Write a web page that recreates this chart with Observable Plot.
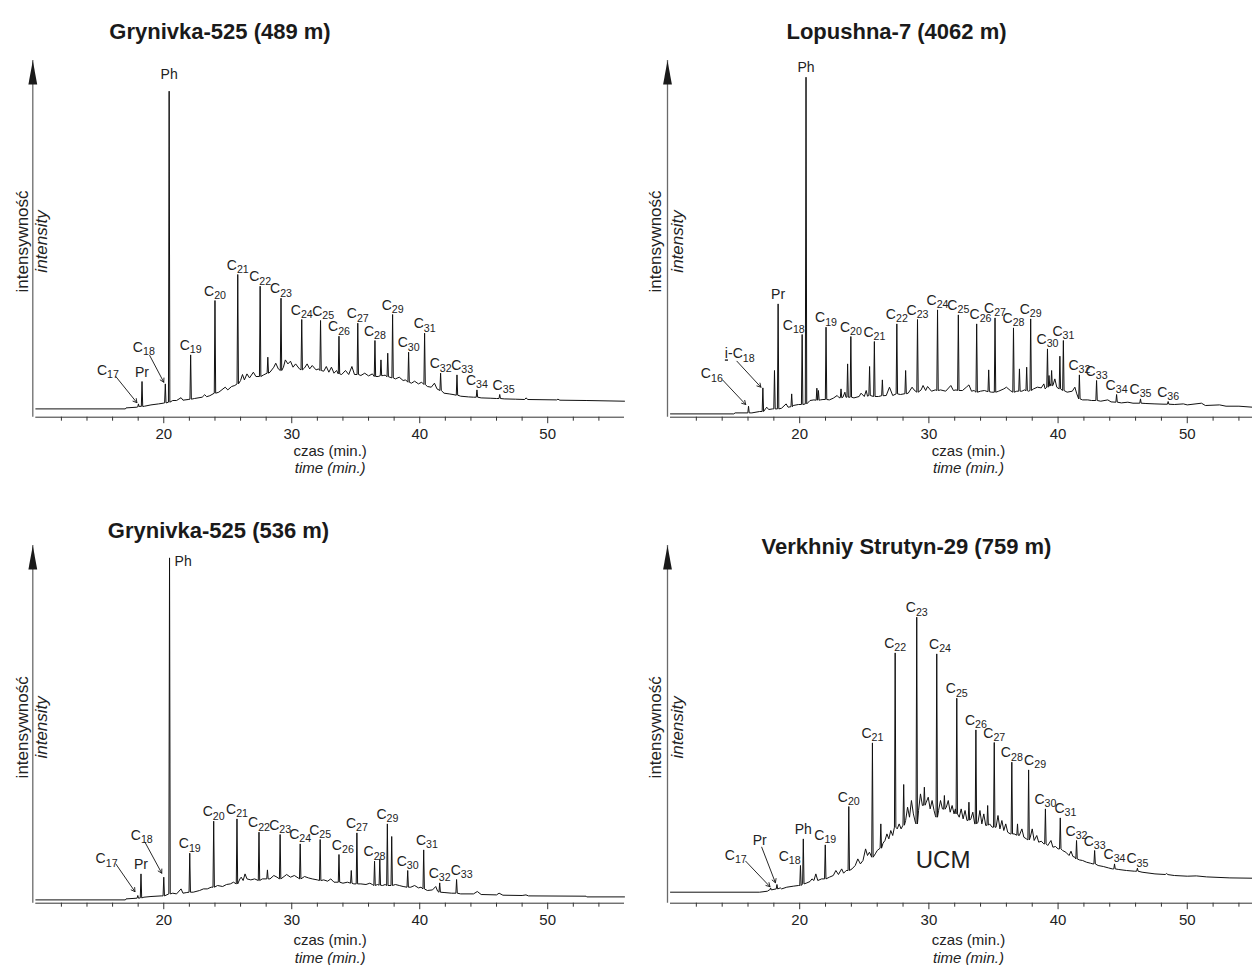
<!DOCTYPE html>
<html><head><meta charset="utf-8">
<script src="https://cdn.jsdelivr.net/npm/d3@7"></script>
<script src="https://cdn.jsdelivr.net/npm/@observablehq/plot@0.6"></script>
<style>
body{margin:0;background:#fff;}
#wrap{position:relative;width:1252px;height:965px;overflow:hidden;background:#fff;}
#wrap svg{position:absolute;}
</style></head><body><div id="wrap"></div>
<script>
// ---------------- data ----------------
const xMajorTicks = [20, 30, 40, 50];
const xMinorTicks = [12, 14, 16, 18, 22, 24, 26, 28, 32, 34, 36, 38, 42, 44, 46, 48, 52, 54];
const titles = ["Grynivka-525 (489 m)", "Lopushna-7 (4062 m)", "Grynivka-525 (536 m)", "Verkhniy Strutyn-29 (759 m)"];
const yLabelPl = "intensywność", yLabelEn = "intensity";
const xLabelPl = "czas (min.)", xLabelEn = "time (min.)";

// baseline / hump traces: [time (min), intensity]
const base1 = [[10,8.3],[17.0,8.3],[17.05,9.3],[17.9,10],[18.12,11],[18.5,11],[19.0,12.3],[19.6,13.3],[19.95,14],
[20.7,16.7],[21.0,16.7],[21.35,19.5],[21.5,17],[21.9,17.7],[22.4,18.7],[23.0,20],[23.2,22.5],[23.35,20.5],[23.6,21.5],
[24.3,25],[24.8,30],[25.0,27.3],[25.3,30.7],[25.55,31.7],[26.0,36.7],[26.15,42.7],[26.3,37.3],[26.5,43.3],[26.7,39.3],[27.0,45],[27.2,40.7],
[27.8,42.3],[28.3,45],[28.6,50],[28.75,54],[28.95,48.3],[29.35,50],[29.5,57.3],[29.7,53.3],[29.9,56],[30.1,50],[30.3,53.3],[30.6,48.3],
[31.0,49.3],[31.2,53.3],[31.4,48.3],[31.6,51.7],[31.9,47.3],[32.1,48.3],[32.5,46],[32.7,50.7],[32.9,45],[33.1,50],[33.3,44],[33.5,46.7],
[33.9,42.7],[34.2,46.7],[34.45,42.7],[34.7,50.7],[34.9,42.7],[35.4,41.7],[35.7,44],[36.0,41.3],[36.3,43.3],[36.75,40.7],[37.15,41.7],[37.3,42],
[38.1,38.3],[38.4,40],[38.7,36.7],[38.9,37.3],[39.35,34],[39.6,36],[39.9,33.3],[40.15,35],[40.6,30.7],[40.9,30],[41.15,34],[41.35,28.3],
[41.9,24],[42.3,23.3],[42.6,22.7],[43.2,21],[43.8,20.3],[44.2,20],[44.8,19.3],[45.5,19],[46.0,18.7],[46.6,18.3],[47.5,18],[48.2,17.7],
[48.3,19.3],[48.45,17.7],[50.7,17.3],[50.8,18],[50.95,17],[53,16.7],[56,16]];
// peaks: [name, time, top, foot]
const peaks1 = [["C17",18.02,13.3,10.3],["Pr",18.3,35.7,10.7],["C18",20.12,33.3,14.3],["Ph",20.42,326,15],["C19",22.1,62.3,18],
["C20",24.0,116.7,24],["C21",25.78,142.7,33.3],["C22",27.53,131,40.7],["",28.13,60,44],["C23",29.16,119,46.7],["C24",30.78,97.7,47.3],
["C25",32.25,96.7,46.7],["C26",33.69,81,43.3],["C27",35.16,94,42.7],["C28",36.5,76.7,40.7],["",36.97,57.3,41.5],["",37.5,64,40.5],
["C29",37.88,102.7,39.3],["C30",39.13,65,35],["C31",40.38,84,32.7],["C32",41.63,44,26.7],["C33",42.91,42.3,22],["C34",44.47,27.3,20],["C35",46.25,22.7,18.7]];
// arrow annotations: [name, labelTime, labelIntensity, fromTime, fromIntensity, toTime, toIntensity]
const arrows1 = [["C17",15.63,46.7,16.25,40.7,17.9,14.5],["C18",18.44,70,18.9,61.7,20.0,35]];

const base2 = [[10,3.3],[14.9,3.3],[15.0,4.3],[16.3,4.3],[16.9,5.7],[17.35,8.3],[17.45,10],[17.6,7.7],[17.9,8.3],
[18.6,9],[18.95,13.3],[19.1,10],[19.5,11.7],[19.9,12.7],[20.8,16.7],[21.1,17.3],[21.6,17.3],[21.8,17.7],
[22.3,17.3],[22.6,19],[22.9,21.7],[23.05,19.5],[23.35,20],[23.5,25],[23.58,20],[24.2,19.3],[24.6,20.7],[24.75,24],[25.0,20.7],[25.15,26.7],[25.25,21],
[26.1,20.7],[26.7,21.7],[26.95,30],[27.2,21.7],[27.8,22.7],[28.4,24],[28.7,30],[28.85,27.3],[29.4,27.3],[29.55,31.7],[29.75,26.7],[29.9,30.7],[30.2,26],[30.5,27.3],
[30.9,27.3],[31.3,26],[31.7,31.7],[31.9,26.7],[32.1,27.3],[32.6,26.7],[32.9,30],[33.1,32.3],[33.3,26],[33.5,26.7],[34.0,26],[34.3,26.7],[34.85,25],
[35.4,26],[35.8,28.3],[36.0,30],[36.3,26.7],[36.8,26],[37.2,26],[37.4,27.3],[37.72,26],[38.1,28.3],[38.4,30],[38.7,29.3],[38.9,33.3],[39.0,28.3],
[39.4,33.3],[39.6,31.7],[39.75,38.3],[39.9,30],[40.7,25],[41.1,26],[41.3,30],[41.45,23.3],[41.9,17.3],[42.3,17.3],[42.6,16.7],[43.3,16],[43.85,17.3],[44.1,15.3],
[44.9,14.3],[45.4,15],[45.8,14],[46.8,13.7],[47.5,13.3],[48.2,13],[49,12.7],[49.7,13.3],[50,12.3],[51.1,14],[51.4,11.7],[52.5,12.3],[53,11],[54,11],[55.05,10]];
const peaks2 = [["C16",16.04,11,4.3],["i-C18",17.15,29.3,5.7],["",18.05,46.7,8.3],["Pr",18.33,113.3,8.3],["",19.38,23.3,10.5],
["C18",20.19,82.7,12.7],["Ph",20.49,340,13.3],["",21.33,29,17],["",21.45,26.7,17],["C19",22.04,90,17.7],["",23.2,28.3,19.5],["",23.71,53.3,20],
["C20",23.96,80.7,20],["",25.41,50.7,21.7],["C21",25.78,75.7,20.7],["",26.4,37.3,21.5],["C22",27.52,93.3,23.3],["",28.2,46.7,23.5],
["C23",29.12,97.7,25],["C24",30.67,107.3,26.7],["C25",32.28,102.3,26.7],["C26",33.7,93.3,25],["",34.63,47.3,25.5],["C27",35.12,99.3,25],
["C28",36.55,89.3,25],["",37.01,48.3,26],["",37.57,50,26.5],["C29",37.88,98.3,26.7],["C30",39.18,68.3,30],["",39.3,41.7,31],["",39.5,46.7,31.5],
["",40.14,61,28.3],["C31",40.41,76.7,26.7],["C32",41.65,42.3,18.3],["C33",42.98,36.7,16.7],["C34",44.53,22.7,15],["C35",46.38,18.3,14],["C36",48.52,15.7,13]];
const arrows2 = [["C16",13.2,43.3,14.03,37.3,15.82,12.7],["i-C18",15.36,63.3,15.14,56,17.0,30]];

const base3 = [[10,3.3],[17.0,3.3],[17.05,4.3],[17.9,5],[18.45,6],[19.0,6.7],[19.8,7.3],[20.7,10],[21.0,9.3],[21.35,14.3],[21.5,10],[21.8,10.7],
[22.3,11],[22.8,12.7],[23.1,14.3],[23.4,14.3],[23.7,16],[24.2,17.7],[24.6,16.7],[24.9,18.7],[25.2,19.3],[25.45,21],
[25.95,24.3],[26.05,26],[26.2,22.7],[26.35,29.3],[26.5,24.3],[26.8,23.3],[27.1,24.3],[27.7,24.3],[28.3,24.3],[28.6,27.7],[28.85,26],
[29.4,26.7],[29.6,28.7],[29.9,26],[30.2,27.7],[30.5,25.3],[31.0,26.7],[31.3,25.3],[31.6,24.3],[32.0,23.3],[32.5,23.3],[32.8,22],[33.05,24.3],[33.3,21],
[34.0,20],[34.35,21],[34.85,19.3],[35.4,19.3],[35.8,18.7],[36.1,20],[36.3,18.7],[36.7,18.7],[37.1,17.7],[37.3,18.7],[38.1,18.7],[38.4,17.7],[38.7,16.7],
[39.3,16],[39.6,17.7],[39.9,15.3],[40.1,16],[40.6,12.7],[41.0,13.3],[41.25,16.7],[41.4,12],[41.9,10.7],[42.5,10],[43.2,9.3],[44.2,9.3],[44.5,11.7],[44.8,8.7],
[46.0,8.3],[46.2,10],[46.5,8],[48.0,7.7],[48.3,8.3],[48.5,7.3],[53.0,7],[53.05,6.3],[56,6.3]];
const peaks3 = [["C17",17.97,7.7,5],["Pr",18.22,29.3,5.3],["C18",20.0,26,7.3],["Ph",20.45,345.3,9.3],["C19",22.03,50,11],["C20",23.9,82,16],
["C21",25.72,84.3,19.3],["C22",27.44,71,22.7],["",28.1,33.3,24.3],["C23",29.09,68.7,24.3],["C24",30.66,59.3,24.3],["C25",32.22,63.7,22.7],
["C26",33.69,48.7,21],["",34.65,32.7,20],["C27",35.09,70.3,19.3],["C28",36.47,42,17.7],["",36.88,44.3,18],["C29",37.47,79.3,17.7],["",37.81,66.7,17.7],
["C30",39.06,32.7,16],["C31",40.31,53.3,14.3],["C32",41.56,20.3,11],["C33",42.88,23.7,10]];
const arrows3 = [["C17",15.53,44.3,16.25,39.3,17.75,11.5],["C18",18.28,67.7,18.53,61,19.84,30]];

const base4 = [[10,11],[16.9,11],[17.5,12],[17.65,13.3],[18.5,15.3],[18.6,14.3],[19.0,16],[19.5,17],[19.9,17.7],
[20.5,20],[20.8,21.7],[20.95,24.3],[21.1,22.7],[21.25,29.3],[21.4,22.7],[21.7,24.3],[22.3,26],[22.6,27.7],[22.8,32.7],[23.0,28.7],[23.25,34.3],[23.4,30],[23.6,32.7],
[24.05,34.3],[24.3,37.7],[24.5,44.3],[24.7,39.3],[24.9,42.7],[25.1,54.3],[25.25,47.7],[25.4,51],[25.85,49.3],[26.0,52.7],[26.45,60],[26.6,62.7],[26.75,69.3],[26.9,64.3],[27.05,72.7],[27.2,67.7],
[27.55,74.3],[27.7,79.3],[27.85,74.3],[28.2,82.7],[28.35,96],[28.5,86],[28.65,102.7],[28.8,89.3],[28.95,81],
[29.2,92.7],[29.35,109.3],[29.5,97.7],[29.8,101],[29.95,106],[30.1,94.3],[30.25,102.7],[30.4,92.7],[30.5,87.7],
[30.75,92.7],[30.9,102.7],[31.05,94.3],[31.35,96],[31.5,102.7],[31.65,91],[31.8,97.7],[31.95,89.3],[32.05,94.3],
[32.35,86],[32.5,94.3],[32.65,84.3],[32.8,92.7],[32.95,82.7],[33.25,84.3],[33.4,91],[33.55,79.3],
[33.8,81],[33.95,92.7],[34.1,79.3],[34.25,89.3],[34.4,77.7],[34.7,79.3],[34.9,76],
[35.2,76],[35.35,87.7],[35.5,74.3],[35.65,82.7],[35.8,72.7],[35.95,79.3],[36.1,71],[36.3,69.3],
[36.6,69.3],[37.0,67.7],[37.2,74.3],[37.35,66],[37.55,64.3],[37.85,66],[38.0,74.3],[38.15,62.7],[38.35,67.7],[38.5,61],[38.7,62],[38.9,59.3],
[39.2,57.7],[39.45,62.7],[39.6,56],[39.8,56.7],[40.0,54.3],[40.35,52.7],[40.6,51],[40.85,47.7],[41.0,52],[41.15,46.7],[41.3,46],
[41.65,43.3],[41.9,42.7],[42.2,41],[42.5,40],[42.7,39.3],[43.1,37.7],[43.5,36.7],[43.9,35.3],[44.2,34.3],[44.7,33.7],[45.3,32.7],[45.9,32],
[46.5,31],[47.5,29.3],[48.3,28.7],[48.4,29.7],[48.5,28.6],[49.0,27.7],[50.0,27],[50.7,27.3],[51.5,26.3],[53.3,25.3],[55.05,25]];
const peaks4 = [["C17",17.75,15.3,13.3],["Pr",18.24,18.7,14.3],["C18",20.06,37.7,17.7],["Ph",20.28,64.3,19.3],["C19",21.98,58.3,24.3],
["C20",23.8,96.7,32.7],["C21",25.63,160.3,46],["",26.28,79.3,55],["C22",27.39,250.3,76],["",28.05,118.7,78],["C23",29.06,286,79.3],
["",29.65,116,98],["C24",30.61,249.3,86],["",31.2,107.7,94],["C25",32.16,205,89.3],["",33.1,101,83],["C26",33.64,173.3,79.3],
["",34.55,97.7,78],["C27",35.06,160.7,76],["C28",36.42,141,69.3],["",36.86,79.3,68],["C29",37.72,133.3,63.3],["C30",39.02,94.3,59.3],
["C31",40.17,85.3,54.3],["C32",41.43,62.7,44.3],["C33",42.83,52.7,39.3],["C34",44.37,39.3,34.3],["C35",46.14,35,32]];
const arrows4 = [["C17",15.05,47.7,15.82,42,17.7,16.5],["Pr",16.9,62.7,17.06,56,18.12,20.5]];
const ucmLabel = {text: "UCM", t: 31.1, v: 42.7};

// ---------------- layout ----------------
const FONT = '"Liberation Sans", Arial, Helvetica, sans-serif';
const arrowHead = {draw(ctx) { ctx.moveTo(0, 0); ctx.lineTo(4.4, 24); ctx.lineTo(-4.4, 24); ctx.closePath(); }};

const panels = [
  {base: base1, peaks: peaks1, arrows: arrows1, title: titles[0], left: 0, top: 0, height: 482, ml: 35.3, mr: 2, mt: 60, mb: 65.3, xmax: 56,
   titleDx: 184.2, titleDy: -22, xlabDx: 0, czasDy: 34, timeDy: 51, yl1: -8.3, yl2: 11, ylDy: 2.6,
   nudge: {Ph: [0, 7], C25: [0.2, 0], C33: [0.4, 0], C35: [0.3, 0]}},
  {base: base2, peaks: peaks2, arrows: arrows2, title: titles[1], left: 626, top: 0, height: 482, ml: 44, mr: 0, mt: 60, mb: 65.3, xmax: 55.05,
   titleDx: 226, titleDy: -22, xlabDx: 7, czasDy: 34, timeDy: 51, yl1: -9.6, yl2: 12.4, ylDy: 2.6,
   nudge: {C18: [-0.65, 0], C26: [0.3, 0]}},
  {base: base3, peaks: peaks3, arrows: arrows3, title: titles[2], left: 0, top: 482, height: 483, ml: 35.3, mr: 2, mt: 63, mb: 62.3, xmax: 56,
   titleDx: 182.7, titleDy: -8, xlabDx: 0, czasDy: 36.5, timeDy: 55, yl1: -8.3, yl2: 11, ylDy: 3,
   nudge: {Ph: [1.06, -13], C26: [0.3, 0], C31: [0.25, 0], C33: [0.4, 0]}},
  {base: base4, peaks: peaks4, arrows: arrows4, title: titles[3], left: 626, top: 482, height: 483, ml: 44, mr: 0, mt: 63, mb: 62.3, xmax: 55.05,
   titleDx: 236, titleDy: 8, xlabDx: 7, czasDy: 36.5, timeDy: 55, yl1: -9.6, yl2: 12.4, ylDy: 3, ucm: ucmLabel,
   nudge: {C18: [-0.84, 0], C24: [0.25, 0], C29: [0.5, 0], C31: [0.4, 0]}}
];

// turn "C21" into C with a real lowered, smaller subscript; underline the "i" of "i-C18"
function subscriptify(svg) {
  const ns = "http://www.w3.org/2000/svg";
  svg.querySelectorAll("text").forEach(el => {
    const m = /^(i-)?C(\d+)$/.exec(el.textContent);
    if (!m) return;
    el.textContent = "";
    if (m[1]) {
      const u = document.createElementNS(ns, "tspan");
      u.setAttribute("text-decoration", "underline");
      u.textContent = "i";
      el.appendChild(u);
      el.appendChild(document.createTextNode("-"));
    }
    el.appendChild(document.createTextNode("C"));
    const s = document.createElementNS(ns, "tspan");
    s.setAttribute("font-size", "0.76em");
    s.setAttribute("dy", "0.32em");
    s.textContent = m[2];
    el.appendChild(s);
  });
}

function makePanel(p) {
  const d = 0.055;
  const pts = p.base.map(([t, v]) => ({t, v}));
  for (const [, t, top, foot] of p.peaks) pts.push({t: t - d, v: foot}, {t, v: top}, {t: t + d, v: foot});
  pts.sort((a, b) => a.t - b.t);
  const arrowNames = new Set(p.arrows.map(a => a[0]));
  const labels = p.peaks.filter(q => q[0] && !arrowNames.has(q[0])).map(([name, t, top]) => {
    const n = p.nudge[name] || [0, 0];
    return {text: name, t: t + n[0], v: top + n[1]};
  });
  const W = 626, H = p.height;
  const marks = [
    Plot.ruleX([10], {dx: -3, stroke: "#6a6a6a", strokeWidth: 1.3}),
    Plot.dot([0], {frameAnchor: "top-left", dx: -3, symbol: arrowHead, fill: "#1a1a1a", stroke: "none"}),
    Plot.ruleY([0], {stroke: "#333", strokeWidth: 1}),
    Plot.axisX(xMinorTicks, {tickSize: 4, tickFormat: () => "", stroke: "#333", label: null}),
    Plot.axisX(xMajorTicks, {tickSize: 6.5, tickPadding: 4.7, fontSize: 15, stroke: "#333", fill: "#222", label: null}),
    Plot.text([xLabelPl], {frameAnchor: "bottom", textAnchor: "middle", dx: p.xlabDx, dy: p.czasDy, fontSize: 15, lineAnchor: "middle", fill: "#222"}),
    Plot.text([xLabelEn], {frameAnchor: "bottom", textAnchor: "middle", dx: p.xlabDx, dy: p.timeDy, fontSize: 15, fontStyle: "italic", lineAnchor: "middle", fill: "#222"}),
    Plot.text([yLabelPl], {frameAnchor: "left", textAnchor: "middle", rotate: -90, dx: p.yl1, dy: p.ylDy, fontSize: 17, lineAnchor: "bottom", fill: "#222"}),
    Plot.text([yLabelEn], {frameAnchor: "left", textAnchor: "middle", rotate: -90, dx: p.yl2, dy: p.ylDy, fontSize: 17, fontStyle: "italic", lineAnchor: "bottom", fill: "#222"}),
    Plot.text([p.title], {frameAnchor: "top-left", textAnchor: "middle", dx: p.titleDx, dy: p.titleDy, fontSize: 22, fontWeight: "bold", lineAnchor: "bottom", fill: "#1a1a1a"}),
    Plot.line(pts, {x: "t", y: "v", stroke: "#111", strokeWidth: 1}),
    Plot.text(labels, {x: "t", y: "v", text: "text", textAnchor: "middle", dy: -5, lineAnchor: "bottom", fontSize: 14, fill: "#222"}),
    Plot.arrow(p.arrows, {x1: a => a[3], y1: a => a[4], x2: a => a[5], y2: a => a[6], stroke: "#111", strokeWidth: 0.9, headLength: 7}),
    Plot.text(p.arrows, {x: a => a[1], y: a => a[2], text: a => a[0], textAnchor: "middle", fontSize: 14, lineAnchor: "middle", fill: "#222"})
  ];
  if (p.ucm) marks.push(Plot.text([p.ucm], {x: "t", y: "v", text: "text", fontSize: 24, lineAnchor: "middle", fill: "#222"}));
  const svg = Plot.plot({
    width: W, height: H,
    marginLeft: p.ml, marginRight: p.mr, marginTop: p.mt, marginBottom: p.mb,
    x: {domain: [10, p.xmax], label: null},
    y: {domain: [0, H - p.mt - p.mb], axis: null, label: null},
    style: {fontFamily: FONT, background: "transparent", overflow: "visible", color: "#222"},
    marks
  });
  subscriptify(svg);
  svg.style.left = p.left + "px";
  svg.style.top = p.top + "px";
  return svg;
}

const wrap = document.getElementById("wrap");
for (const p of panels) wrap.appendChild(makePanel(p));
</script>
</body></html>
